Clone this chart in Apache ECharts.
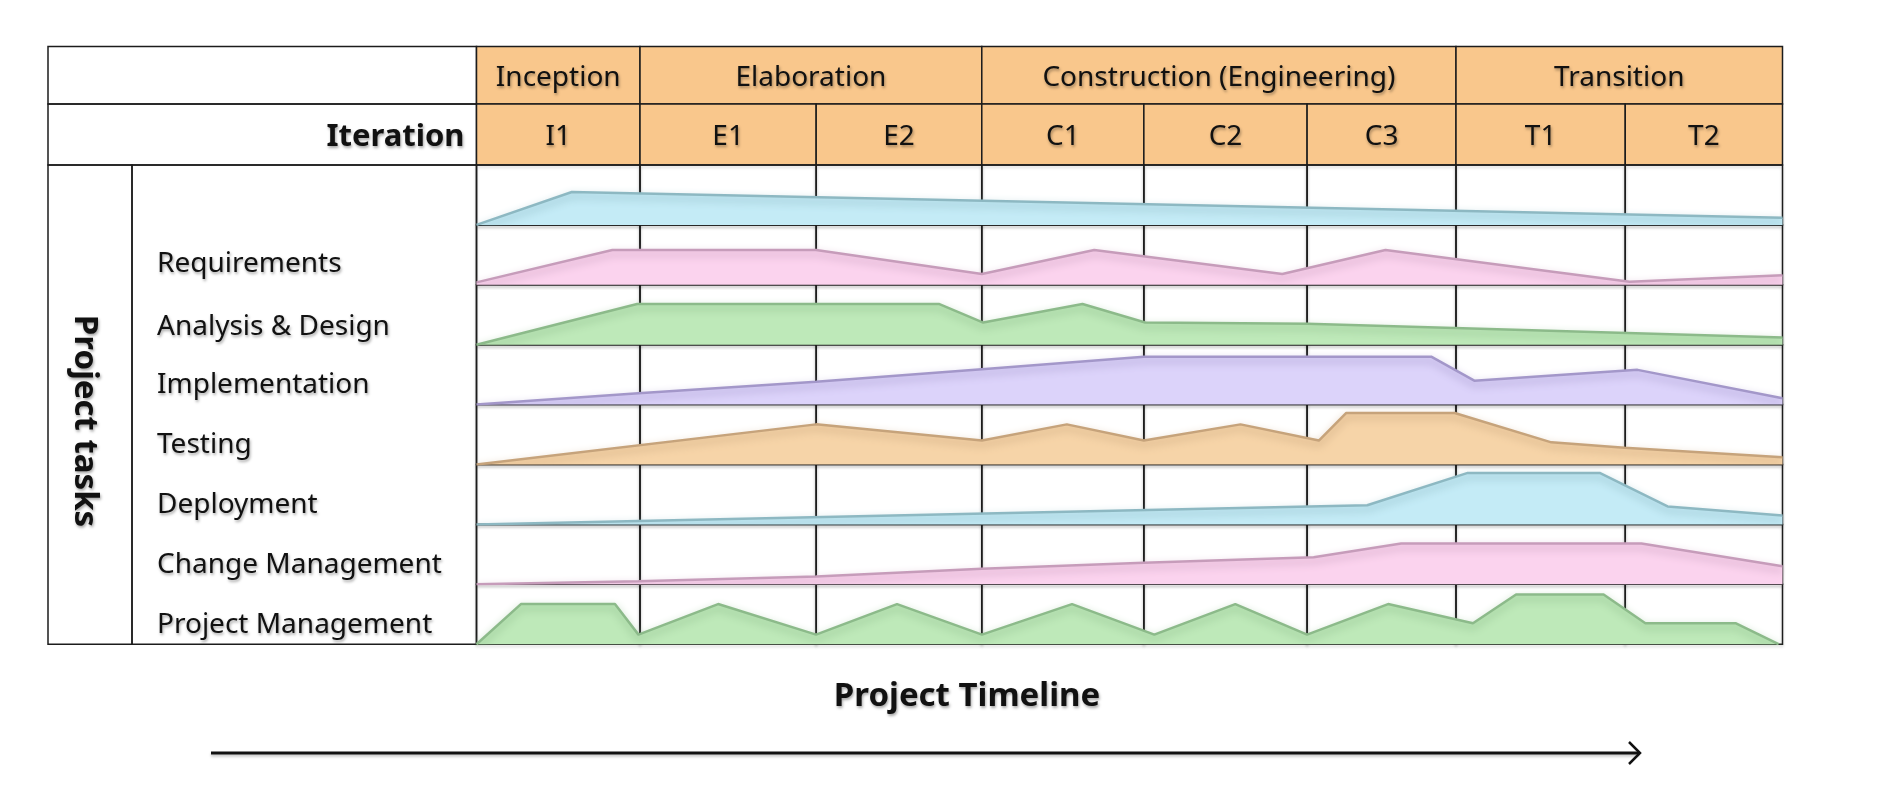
<!DOCTYPE html>
<html><head><meta charset="utf-8">
<script src="https://cdn.jsdelivr.net/npm/echarts@6/dist/echarts.min.js"></script>
<style>html,body{margin:0;padding:0;background:#fff}#c{width:1882px;height:808px}</style>
</head><body><div id="c"></div>
<script>
// ---------- DATA (x = % of project timeline, y = % effort within row) ----------
const phases = ['Inception', 'Elaboration', 'Construction (Engineering)', 'Transition'];
const phaseBounds = [0, 12.52, 38.69, 75.0, 100];
const iterations = ['I1', 'E1', 'E2', 'C1', 'C2', 'C3', 'T1', 'T2'];
const iterationBounds = [0, 12.52, 26.01, 38.69, 51.10, 63.60, 75.0, 87.96, 100];
const taskLabels = ['Requirements', 'Analysis & Design', 'Implementation', 'Testing', 'Deployment', 'Change Management', 'Project Management'];

const unlabeledRow = [[0,0],[7.3,55],[100,12]];
const requirements = [[0,4],[10.4,58],[26.0,58],[38.7,18],[47.3,58],[61.7,18],[69.6,58],[88.3,5],[100,16]];
const analysisDesign = [[0,0],[12.3,68],[35.4,68],[38.8,37],[46.4,68],[51.2,37],[63.6,35],[100,12]];
const implementation = [[0,0],[12.4,19],[26.0,38],[38.7,59],[51.1,80],[73.1,80],[76.4,40],[88.9,58],[100,10.5]];
const testing = [[0,0],[26.0,67],[38.7,40],[45.2,67],[51.1,40],[58.5,67],[64.5,40],[66.6,86],[74.9,86],[82.3,37],[87.9,28],[100,12]];
const deployment = [[0,0],[68.2,32],[75.9,86],[86.0,86],[91.2,30],[100,15]];
const changeManagement = [[0,0],[12.4,5],[26.0,13],[38.7,26],[51.1,36],[64.1,45],[70.8,68],[89.2,68],[100,30]];
const projectManagement = [[0,0],[3.4,67],[10.6,67],[12.4,16],[18.5,67],[26.0,16],[32.2,67],[38.7,16],[45.6,67],[51.9,16],[58.1,67],[63.6,16],[69.8,67],[76.3,35],[79.6,83],[86.3,83],[89.5,35],[96.4,35],[99.7,0]];

const rowData = [unlabeledRow, requirements, analysisDesign, implementation, testing, deployment, changeManagement, projectManagement];

// ---------- STYLE ----------
const FONT = '"Noto Sans", sans-serif';
const INK = '#1c1c1c';
const ORANGE = '#F9C78C';
const palette = {
  blue:   {fill:'#C4EBF6', edge:'#8DB8C2'},
  pink:   {fill:'#FBD3EE', edge:'#C69CBA'},
  green:  {fill:'#BEE9B9', edge:'#8CBA8A'},
  purple: {fill:'#DCD3FA', edge:'#A397C9'},
  tan:    {fill:'#F6D4A8', edge:'#C6A37B'}
};
const rowColors = ['blue','pink','green','purple','tan','blue','pink','green'];
const shadowText = {textShadowColor:'rgba(0,0,0,0.35)', textShadowBlur:3, textShadowOffsetX:1, textShadowOffsetY:2};

const L = 476.5, W = 1306, TOP = 46.5, H1 = 57.5, H2 = 61, ROWH = 59.9;
const rowTop0 = TOP + H1 + H2;

const grid = [], xAxis = [], yAxis = [], series = [];
function addGrid(top, height) {
  const i = grid.length;
  grid.push({left: L, width: W, top: top, height: height});
  xAxis.push({gridIndex:i, type:'value', min:0, max:100, show:false});
  yAxis.push({gridIndex:i, type:'value', min:0, max:100, show:false});
  return i;
}

const headerLabel = Object.assign({show:true, position:'inside', offset:[0,3], color:'#111', fontSize:28, fontFamily:FONT}, shadowText);

// header rows
const g0 = addGrid(TOP, H1);
series.push({
  type:'line', xAxisIndex:g0, yAxisIndex:g0, data:[], silent:true,
  markArea:{silent:true,
    itemStyle:{color:ORANGE, borderColor:INK, borderWidth:1.5},
    label:headerLabel,
    data: phases.map((p,i)=>[{name:p, xAxis:phaseBounds[i]}, {xAxis:phaseBounds[i+1]}])
  }
});
const g1 = addGrid(TOP + H1, H2);
series.push({
  type:'line', xAxisIndex:g1, yAxisIndex:g1, data:[], silent:true,
  markArea:{silent:true,
    itemStyle:{color:ORANGE, borderColor:INK, borderWidth:1.5},
    label:headerLabel,
    data: iterations.map((p,i)=>[{name:p, xAxis:iterationBounds[i]}, {xAxis:iterationBounds[i+1]}])
  }
});

// task rows
rowData.forEach((d, r) => {
  const gi = addGrid(rowTop0 + r*ROWH, ROWH);
  const c = palette[rowColors[r]];
  series.push({
    type:'line', xAxisIndex:gi, yAxisIndex:gi, data:d, z:2,
    showSymbol:false, symbol:'none', silent:true,
    lineStyle:{color:c.edge, width:2.5, shadowColor:c.edge, shadowBlur:9, shadowOffsetY:4},
    areaStyle:{color:c.fill, opacity:1}
  });
  series.push({
    type:'line', xAxisIndex:gi, yAxisIndex:gi, data:[], z:5, silent:true,
    markArea:{silent:true,
      itemStyle:{color:'rgba(0,0,0,0)', borderColor:INK, borderWidth:1.5, shadowColor:'rgba(0,0,0,0.18)', shadowBlur:3, shadowOffsetY:2},
      data: iterations.map((p,i)=>[{xAxis:iterationBounds[i]}, {xAxis:iterationBounds[i+1]}])
    }
  });
});

// left-hand table part & annotations
const LEFT = 48, DIV = 132, BOTTOM = rowTop0 + 8*ROWH;
const cellStyle = {fill:'none', stroke:INK, lineWidth:1.5};
const labelY = [264.5, 327, 385, 445.5, 505.5, 565.5, 625.5];
const graphic = [
  {type:'rect', shape:{x:LEFT, y:TOP, width:L-LEFT, height:H1}, style:cellStyle},
  {type:'rect', shape:{x:LEFT, y:TOP+H1, width:L-LEFT, height:H2}, style:cellStyle},
  {type:'rect', shape:{x:LEFT, y:rowTop0, width:DIV-LEFT, height:BOTTOM-rowTop0}, style:cellStyle},
  {type:'rect', shape:{x:DIV, y:rowTop0, width:L-DIV, height:BOTTOM-rowTop0}, style:cellStyle},
  {type:'text', x:L-12, y:TOP+H1+H2/2+3, style:Object.assign({text:'Iteration', font:'bold 31px '+FONT, fill:'#111', align:'right', verticalAlign:'middle'}, shadowText)},
  {type:'text', x:84, y:421, rotation:-Math.PI/2, style:Object.assign({text:'Project tasks', font:'bold 33px '+FONT, fill:'#111', align:'center', verticalAlign:'middle'}, shadowText)},
  {type:'text', x:967, y:697, style:Object.assign({text:'Project Timeline', font:'bold 33px '+FONT, fill:'#111', align:'center', verticalAlign:'middle'}, shadowText)},
  {type:'line', shape:{x1:211, y1:753, x2:1639, y2:753}, style:{stroke:'#111', lineWidth:3, shadowColor:'rgba(0,0,0,0.25)', shadowBlur:3, shadowOffsetY:2}},
  {type:'polyline', shape:{points:[[1629,742],[1640,753],[1629,764]]}, style:{stroke:'#111', lineWidth:2.5, fill:'none'}}
];
taskLabels.forEach((t,i)=>{
  graphic.push({type:'text', x:157, y:labelY[i], style:Object.assign({text:t, font:'28px '+FONT, fill:'#111', align:'left', verticalAlign:'middle'}, shadowText)});
});

const chart = echarts.init(document.getElementById('c'), null, {renderer:'canvas'});
chart.setOption({
  animation:false,
  backgroundColor:'#fff',
  grid, xAxis, yAxis, series, graphic
});
</script>
</body></html>
